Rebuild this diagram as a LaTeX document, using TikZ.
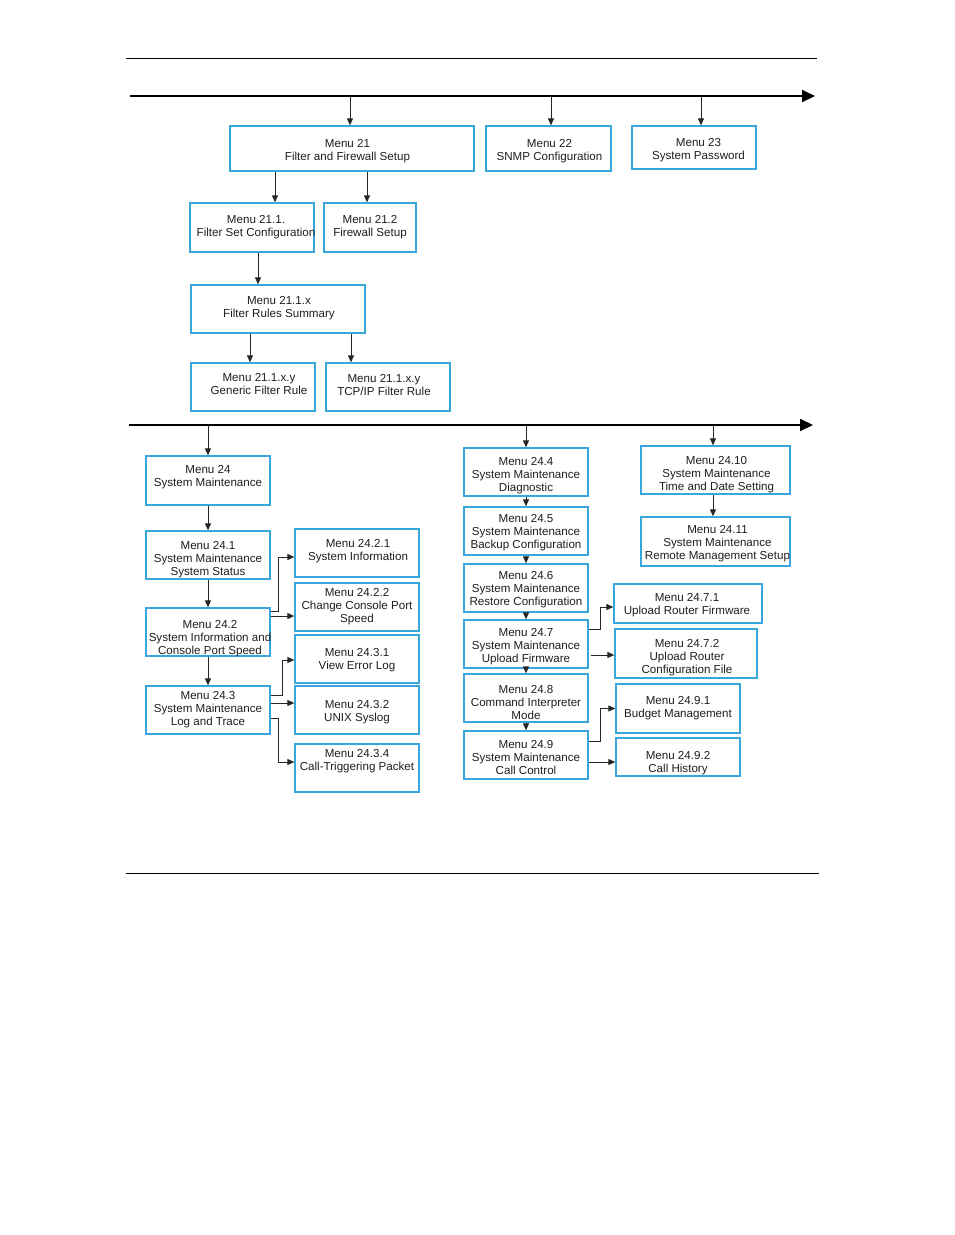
\documentclass[tikz,border=0pt]{standalone}
\usepackage{fontspec}
\setmainfont{Liberation Sans}
\usetikzlibrary{arrows.meta}
\definecolor{boxblue}{RGB}{58,166,222}
\definecolor{txt}{RGB}{30,30,30}
% name, cx, cy, w, h, dx, dy (pixels, down positive), text
\newcommand\mybox[8]{%
  \node[box, minimum width=#4pt, minimum height=#5pt] (#1) at (#2,#3) {};
  \node[boxtext] (#1t) at ([shift={(#6,#7)}]#1.center) {#8};}
\begin{document}
\begin{tikzpicture}[x=1pt,y=-1pt,
  box/.style={draw=boxblue, line width=1.3pt, inner sep=0pt},
  boxtext/.style={inner sep=0pt, align=center, text=txt,
    font=\fontsize{11.6}{13}\selectfont},
  arr/.style={line width=1pt, draw=black!85, -{Triangle[length=7pt,width=6pt]}},
  mainarr/.style={line width=2pt, -{Triangle[length=13pt,width=12pt]}},
  rule/.style={line width=0.9pt}]
\useasboundingbox (0,0) rectangle (954,1235);
% rules
\coordinate (r1s) at (126,58); \coordinate (r1e) at (817,58);
\coordinate (r2s) at (126,873); \coordinate (r2e) at (819,873);
\draw[rule] (r1s) -- (r1e);
\draw[rule] (r2s) -- (r2e);
% main lines
\coordinate (l1s) at (130,96); \coordinate (l1e) at (815,96);
\coordinate (l2s) at (129,425); \coordinate (l2e) at (813,425);
\draw[mainarr] (l1s) -- (l1e);
\draw[mainarr] (l2s) -- (l2e);
% upper boxes
\mybox{M21}{352}{148.5}{244}{45}{-4.5}{3}{Menu 21\\Filter and Firewall Setup}
\mybox{M22}{548.5}{148.5}{125}{45}{1}{3}{Menu 22\\SNMP Configuration}
\mybox{M23}{694}{147.5}{124}{43}{4.5}{3}{Menu 23\\System Password}
\mybox{M211}{252}{227.5}{124}{49}{4}{0}{Menu 21.1.\\Filter Set Configuration}
\mybox{M212}{370}{227.5}{92}{49}{0}{0}{Menu 21.2\\Firewall Setup}
\mybox{M211x}{278}{309}{174}{48}{1}{-1}{Menu 21.1.x\\Filter Rules Summary}
\mybox{M211xyG}{253}{387}{124}{48}{6}{-3}{Menu 21.1.x.y\\Generic Filter Rule}
\mybox{M211xyT}{388}{387}{124}{48}{-4}{-2}{Menu 21.1.x.y\\TCP/IP Filter Rule}
% upper connectors
\draw[arr] ([xshift=-2pt]M21.north |- l1s) -- ([xshift=-2pt]M21.north);
\draw[arr] ([xshift=2.5pt]M22.north |- l1s) -- ([xshift=2.5pt]M22.north);
\draw[arr] ([xshift=7pt]M23.north |- l1s) -- ([xshift=7pt]M23.north);
\draw[arr] ([xshift=23pt]M211.north |- M21.south) -- ([xshift=23pt]M211.north);
\draw[arr] ([xshift=-3pt]M212.north |- M21.south) -- ([xshift=-3pt]M212.north);
\draw[arr] ([xshift=6pt]M211.south) -- ([xshift=6pt]M211.south |- M211x.north);
\draw[arr] ([xshift=-3pt]M211xyG.north |- M211x.south) -- ([xshift=-3pt]M211xyG.north);
\draw[arr] ([xshift=-37pt]M211xyT.north |- M211x.south) -- ([xshift=-37pt]M211xyT.north);
% lower left column
\mybox{M24}{208}{480.5}{124}{49}{0}{-3}{Menu 24\\System Maintenance}
\mybox{M241}{208}{555}{124}{48}{0}{5}{Menu 24.1\\System Maintenance\\System Status}
\mybox{M242}{208}{632}{124}{48}{2}{7}{Menu 24.2\\System Information and\\Console Port Speed}
\mybox{M243}{208}{710}{124}{48}{0}{0}{Menu 24.3\\System Maintenance\\Log and Trace}
\mybox{M2421}{357}{553}{124}{48}{1}{-2}{Menu 24.2.1\\System Information}
\mybox{M2422}{357}{607}{124}{48}{0}{0}{Menu 24.2.2\\Change Console Port\\Speed}
\mybox{M2431}{357}{659}{124}{48}{0}{1}{Menu 24.3.1\\View Error Log}
\mybox{M2432}{357}{710}{124}{48}{0}{2}{Menu 24.3.2\\UNIX Syslog}
\mybox{M2434}{357}{768}{124}{48}{0}{-6.5}{Menu 24.3.4\\Call-Triggering Packet}
% lower middle column
\mybox{M244}{526}{472}{124}{48}{0}{4}{Menu 24.4\\System Maintenance\\Diagnostic}
\mybox{M245}{526}{531}{124}{48}{0}{2}{Menu 24.5\\System Maintenance\\Backup Configuration}
\mybox{M246}{526}{588}{124}{48}{0}{2}{Menu 24.6\\System Maintenance\\Restore Configuration}
\mybox{M247}{526}{644}{124}{48}{0}{3}{Menu 24.7\\System Maintenance\\Upload Firmware}
\mybox{M248}{526}{698}{124}{48}{0}{4}{Menu 24.8\\Command Interpreter\\Mode}
\mybox{M249}{526}{755}{124}{48}{0}{2}{Menu 24.9\\System Maintenance\\Call Control}
% lower right column
\mybox{M2410}{715.5}{470}{149}{48}{1}{5}{Menu 24.10\\System Maintenance\\Time and Date Setting}
\mybox{M2411}{715.5}{541.5}{149}{49}{2}{2}{Menu 24.11\\System Maintenance\\Remote Management Setup}
\mybox{M2471}{688}{603.5}{148}{39}{-1}{2}{Menu 24.7.1\\Upload Router Firmware}
\mybox{M2472}{686}{653.5}{142}{49}{1}{4}{Menu 24.7.2\\Upload Router\\Configuration File}
\mybox{M2491}{678}{708.5}{124}{49}{0}{0}{Menu 24.9.1\\Budget Management}
\mybox{M2492}{678}{757}{124}{38}{0}{6}{Menu 24.9.2\\Call History}
% lower connectors from main line
\draw[arr] (M24.north |- l2s) -- (M24.north);
\draw[arr] (M244.north |- l2s) -- (M244.north);
\draw[arr] ([xshift=-2.5pt]M2410.north |- l2s) -- ([xshift=-2.5pt]M2410.north);
% left chain
\draw[arr] (M24.south) -- (M241.north);
\draw[arr] (M241.south) -- (M242.north);
\draw[arr] (M242.south) -- (M243.north);
% middle chain
\draw[arr] (M244.south) -- (M245.north);
\draw[arr] (M245.south) -- (M246.north);
\draw[arr] (M246.south) -- (M247.north);
\draw[arr] (M247.south) -- (M248.north);
\draw[arr] (M248.south) -- (M249.north);
% right chain
\draw[arr] ([xshift=-2.5pt]M2410.south) -- ([xshift=-2.5pt]M2410.south |- M2411.north);
% 24.2 branches
\draw[arr] ([yshift=21pt]M242.east) -- ++(8,0) |- ([yshift=-4pt]M2421.west);
\draw[arr] ([yshift=16pt]M242.east) -- ([yshift=16pt]M242.east -| M2422.west);
% 24.3 branches
\draw[arr] ([yshift=15pt]M243.east) -- ++(12,0) |- ([yshift=-1pt]M2431.west);
\draw[arr] ([yshift=7pt]M243.east) -- ([yshift=7pt]M243.east -| M2432.west);
\draw[arr] ([yshift=-8pt]M243.east) -- ++(8,0) |- ([yshift=6pt]M2434.west);
% 24.7 branches
\draw[arr] ([yshift=15pt]M247.east) -- ++(12,0) |- ([yshift=-3.5pt]M2471.west);
\draw[arr] ([yshift=-11pt,xshift=2pt]M247.east) -- ([yshift=-11pt]M247.east -| M2472.west);
% 24.9 branches
\draw[arr] ([yshift=14pt]M249.east) -- ++(12,0) |- (M2491.west);
\draw[arr] ([yshift=-7pt]M249.east) -- ([yshift=-7pt]M249.east -| M2492.west);
\end{tikzpicture}
\end{document}
